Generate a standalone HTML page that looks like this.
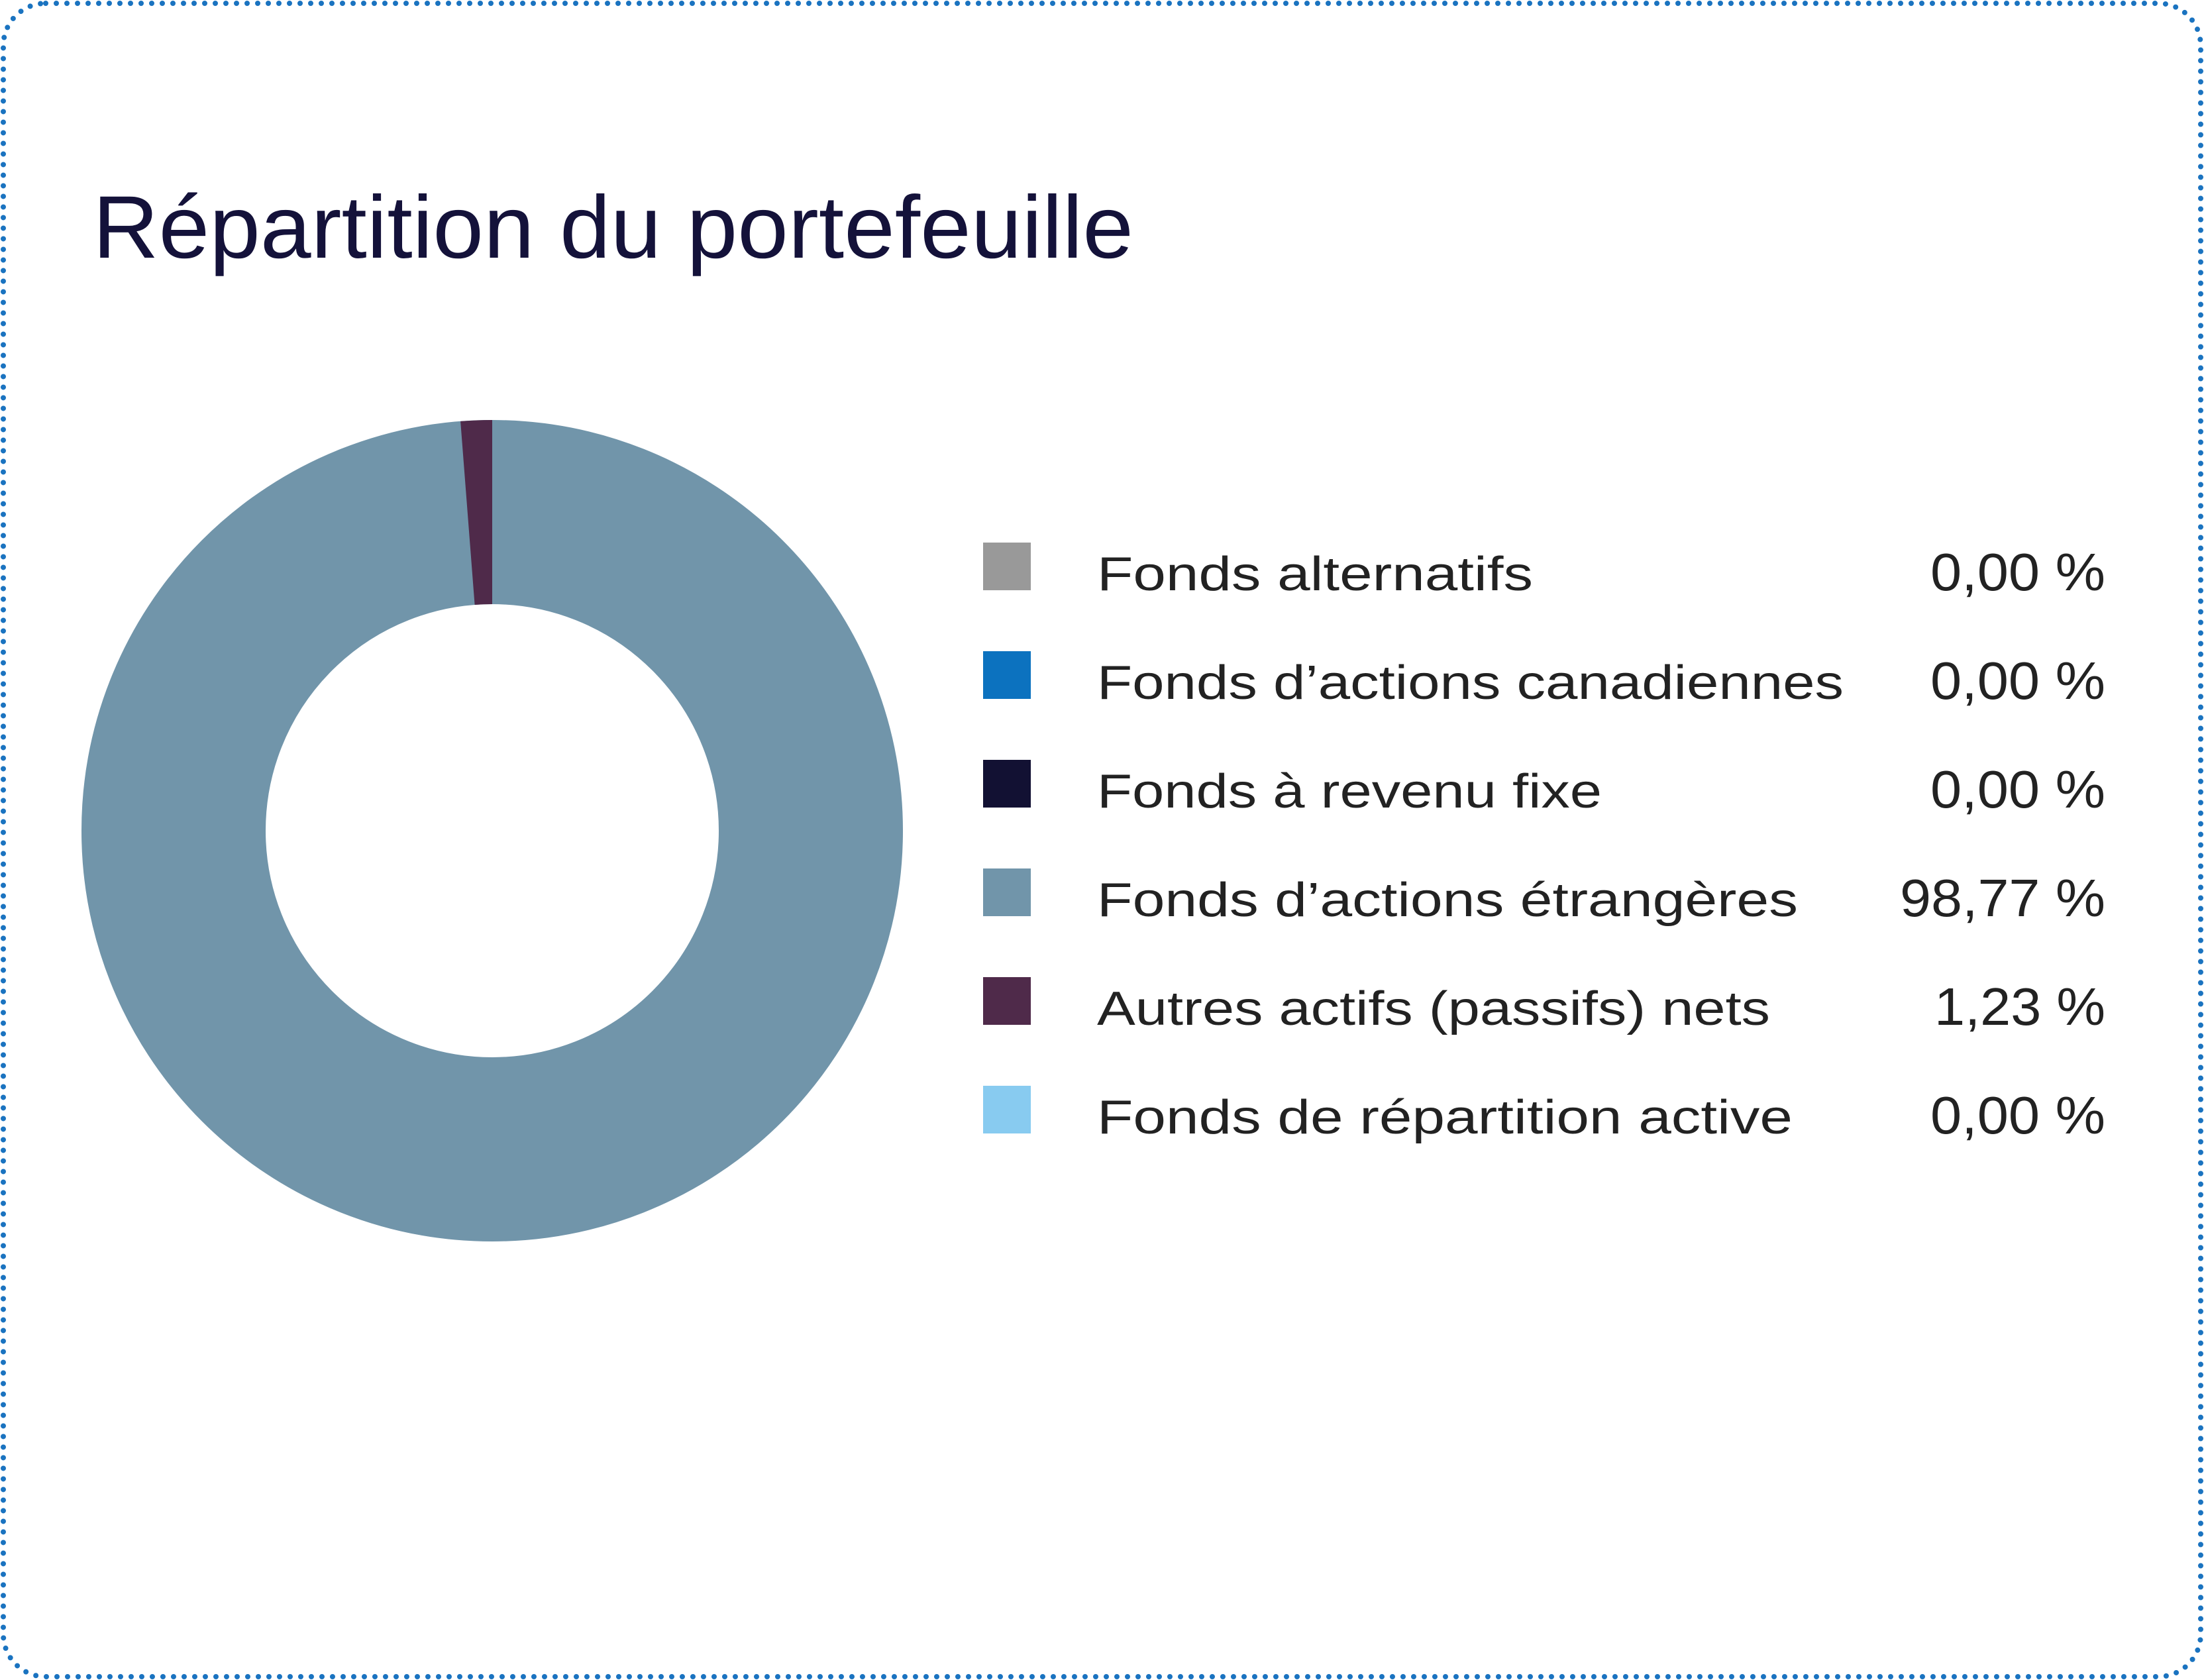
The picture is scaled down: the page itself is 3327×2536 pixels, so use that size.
<!DOCTYPE html>
<html><head><meta charset="utf-8"><style>
html,body{margin:0;padding:0;background:#fff;}
svg{display:block;}
</style></head><body>
<svg width="3327" height="2536" viewBox="0 0 3327 2536" xmlns="http://www.w3.org/2000/svg">
<rect x="5" y="5" width="3317" height="2526" rx="64" ry="64" fill="#fff" stroke="#1a73c0" stroke-width="8" stroke-linecap="round" stroke-dasharray="0 16"/>
<text x="140" y="389" font-family="Liberation Sans, sans-serif" font-size="134" fill="#14123a" textLength="1571" lengthAdjust="spacingAndGlyphs">Répartition du portefeuille</text>
<g transform="translate(743,1254)">
<circle r="481" fill="none" stroke="#7195aa" stroke-width="278"/>
<path d="M0,-620 A620,620 0 0 0 -47.9,-618.1 L-26.4,-341 A342,342 0 0 1 0,-342 Z" fill="#4f2a4a"/>
</g>
<g font-family="Liberation Sans, sans-serif" font-size="72" fill="#222">
<rect x="1484" y="819" width="72" height="72" fill="#999999"/>
<text x="1656" y="891" textLength="658" lengthAdjust="spacingAndGlyphs">Fonds alternatifs</text>
<text x="3178" y="891" text-anchor="end" font-size="80" textLength="264" lengthAdjust="spacingAndGlyphs">0,00 %</text>
<rect x="1484" y="983" width="72" height="72" fill="#0c72bf"/>
<text x="1656" y="1055" textLength="1127" lengthAdjust="spacingAndGlyphs">Fonds d’actions canadiennes</text>
<text x="3178" y="1055" text-anchor="end" font-size="80" textLength="264" lengthAdjust="spacingAndGlyphs">0,00 %</text>
<rect x="1484" y="1147" width="72" height="72" fill="#121133"/>
<text x="1656" y="1219" textLength="762" lengthAdjust="spacingAndGlyphs">Fonds à revenu fixe</text>
<text x="3178" y="1219" text-anchor="end" font-size="80" textLength="264" lengthAdjust="spacingAndGlyphs">0,00 %</text>
<rect x="1484" y="1311" width="72" height="72" fill="#7195aa"/>
<text x="1656" y="1383" textLength="1058" lengthAdjust="spacingAndGlyphs">Fonds d’actions étrangères</text>
<text x="3178" y="1383" text-anchor="end" font-size="80" textLength="310" lengthAdjust="spacingAndGlyphs">98,77 %</text>
<rect x="1484" y="1475" width="72" height="72" fill="#4f2a4a"/>
<text x="1656" y="1547" textLength="1016" lengthAdjust="spacingAndGlyphs">Autres actifs (passifs) nets</text>
<text x="3178" y="1547" text-anchor="end" font-size="80" textLength="258" lengthAdjust="spacingAndGlyphs">1,23 %</text>
<rect x="1484" y="1639" width="72" height="72" fill="#88cbf0"/>
<text x="1656" y="1711" textLength="1050" lengthAdjust="spacingAndGlyphs">Fonds de répartition active</text>
<text x="3178" y="1711" text-anchor="end" font-size="80" textLength="264" lengthAdjust="spacingAndGlyphs">0,00 %</text>
</g>
</svg>
</body></html>
